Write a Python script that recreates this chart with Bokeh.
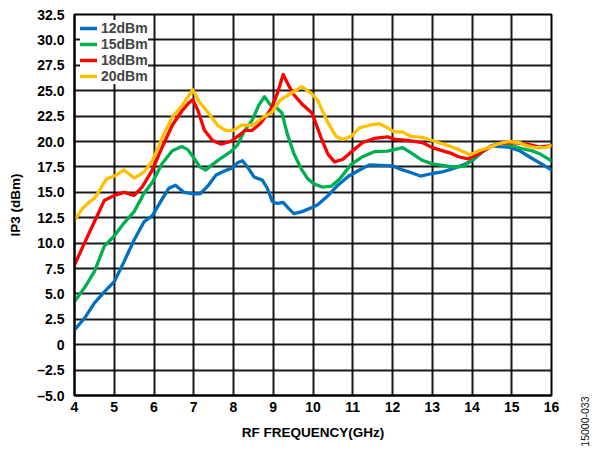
from bokeh.plotting import figure
from bokeh.models import FixedTicker, CustomJSTickFormatter, Legend, LegendItem, Range1d
from bokeh.layouts import row
from bokeh.embed import file_html
from bokeh.resources import INLINE
import math

# ---- data ----
x_12 = [4.0, 4.25, 4.5, 4.75, 5.0, 5.25, 5.5, 5.75, 5.96, 6.17, 6.375, 6.54, 6.75, 7.0, 7.16, 7.35, 7.56,
        7.77, 7.975, 8.1, 8.225, 8.35, 8.52, 8.725, 8.85, 8.975, 9.1, 9.25, 9.39, 9.52, 9.725, 9.975,
        10.125, 10.375, 10.625, 10.9, 11.17, 11.42, 11.7, 12.0, 12.25, 12.46, 12.7, 13.0, 13.25, 13.5,
        13.75, 14.0, 14.25, 14.5, 14.68, 14.93, 15.19, 15.44, 15.7, 16.0]
y_12 = [1.45, 2.6, 4.1, 5.2, 6.2, 8.2, 10.3, 12.1, 12.7, 14.1, 15.4, 15.7, 15.0, 14.85, 14.85, 15.6, 16.7,
        17.1, 17.4, 17.9, 18.1, 17.5, 16.5, 16.2, 15.4, 14.1, 13.9, 14.0, 13.4, 12.9, 13.1, 13.5,
        13.8, 14.65, 15.7, 16.6, 17.2, 17.7, 17.66, 17.6, 17.2, 16.95, 16.6, 16.85, 17.0, 17.3,
        17.65, 18.1, 18.95, 19.6, 19.5, 19.45, 19.1, 18.5, 17.9, 17.2]

x_15 = [4.0, 4.25, 4.5, 4.75, 5.0, 5.25, 5.5, 5.75, 5.96, 6.2, 6.46, 6.7, 6.85, 7.0, 7.15, 7.3, 7.46,
        7.68, 7.93, 8.1, 8.26, 8.47, 8.64, 8.78, 8.93, 9.1, 9.22, 9.35, 9.52, 9.72, 9.875, 10.04,
        10.25, 10.46, 10.67, 10.96, 11.25, 11.54, 11.875, 12.04, 12.25, 12.46, 12.75, 13.0, 13.25,
        13.5, 13.8, 14.0, 14.25, 14.5, 14.75, 15.0, 15.25, 15.5, 15.7, 16.0]
y_15 = [4.25, 5.6, 7.2, 9.7, 10.7, 12.0, 13.1, 14.9, 16.0, 17.8, 19.1, 19.5, 19.2, 18.4, 17.5, 17.2, 17.7,
        18.35, 19.0, 19.65, 20.95, 22.1, 23.6, 24.4, 23.6, 23.25, 22.8, 20.8, 18.8, 17.2, 16.3, 15.8,
        15.5, 15.6, 16.3, 17.75, 18.5, 19.0, 19.05, 19.2, 19.4, 18.9, 18.15, 17.8, 17.65,
        17.5, 17.55, 18.2, 18.95, 19.6, 19.85, 19.6, 19.3, 19.1, 18.8, 18.1]

x_18 = [4.0, 4.25, 4.5, 4.75, 5.0, 5.25, 5.5, 5.7, 5.96, 6.2, 6.46, 6.7, 6.875, 6.975, 7.1, 7.27, 7.475,
        7.68, 7.93, 8.14, 8.3, 8.475, 8.68, 8.93, 9.1, 9.25, 9.39, 9.52, 9.72, 9.975, 10.2, 10.375,
        10.54, 10.75, 11.0, 11.25, 11.54, 11.875, 12.08, 12.375, 12.75, 13.0, 13.25, 13.5, 13.66,
        13.9, 14.17, 14.42, 14.68, 14.93, 15.19, 15.44, 15.7, 16.0]
y_18 = [7.85, 10.0, 12.1, 14.2, 14.7, 15.0, 14.7, 15.5, 17.2, 19.4, 21.6, 23.0, 23.8, 24.1, 23.1, 21.1, 20.1,
        19.75, 20.0, 20.6, 21.1, 21.1, 21.8, 23.1, 24.7, 26.6, 25.5, 24.6, 23.7, 22.8, 20.4, 18.75,
        18.0, 18.25, 19.1, 19.9, 20.3, 20.45, 20.2, 20.1, 19.9, 19.4, 19.1, 18.8, 18.5,
        18.3, 18.8, 19.4, 19.8, 19.9, 19.85, 19.7, 19.45, 19.6]

x_20 = [4.0, 4.2, 4.375, 4.5, 4.63, 4.8, 5.0, 5.25, 5.5, 5.75, 5.96, 6.2, 6.46, 6.7, 6.975, 7.14, 7.35,
        7.6, 7.8, 8.0, 8.2, 8.47, 8.72, 8.97, 9.18, 9.43, 9.72, 9.97, 10.125, 10.375, 10.58, 10.75,
        10.96, 11.17, 11.42, 11.67, 11.875, 12.04, 12.25, 12.46, 12.75, 13.0, 13.15, 13.4, 13.66,
        13.96, 14.17, 14.42, 14.68, 14.93, 15.19, 15.36, 15.6, 15.85, 16.0]
y_20 = [12.25, 13.4, 14.05, 14.4, 15.2, 16.3, 16.6, 17.2, 16.4, 17.0, 18.1, 20.3, 22.4, 23.5, 25.1, 23.9, 22.9,
        21.6, 21.1, 21.1, 21.6, 21.6, 22.3, 22.9, 24.1, 24.7, 25.4, 24.7, 24.0, 21.85, 20.5, 20.2,
        20.5, 21.35, 21.6, 21.75, 21.35, 20.95, 20.95, 20.5, 20.4, 20.1, 19.9, 19.6, 19.2,
        18.7, 19.1, 19.4, 19.8, 20.0, 19.9, 19.6, 19.4, 19.4, 19.6]

series_names = ["12dBm", "15dBm", "18dBm", "20dBm"]
x_ticks = [4, 5, 6, 7, 8, 9, 10, 11, 12, 13, 14, 15, 16]
y_ticks = [-5, -2.5, 0, 2.5, 5, 7.5, 10, 12.5, 15, 17.5, 20, 22.5, 25, 27.5, 30, 32.5]
figure_id = "15000-033"

colors = ["#0070C0", "#00B050", "#FF0000", "#FFC000"]
FONT = "Liberation Sans"
H = 449

p = figure(width=571, height=H, output_backend="svg", toolbar_location=None,
           x_range=Range1d(x_ticks[0], x_ticks[-1]), y_range=Range1d(y_ticks[0], y_ticks[-1]),
           min_border_left=74, min_border_right=20, min_border_top=14, min_border_bottom=52)

p.outline_line_color = "black"
p.outline_line_width = 2

for ax in (p.xaxis[0], p.yaxis[0]):
    ax.major_tick_out = 0
    ax.major_tick_in = 0
    ax.minor_tick_out = 0
    ax.minor_tick_in = 0
    ax.axis_line_color = "black"
    ax.axis_line_width = 2
    ax.major_label_text_font = FONT
    ax.major_label_text_font_style = "bold"
    ax.major_label_text_font_size = "14px"
    ax.major_label_text_color = "black"
    ax.axis_label_text_font = FONT
    ax.axis_label_text_font_style = "bold"
    ax.axis_label_text_font_size = "13.5px"
    ax.axis_label_text_color = "black"

p.xaxis.ticker = FixedTicker(ticks=x_ticks)
p.yaxis.ticker = FixedTicker(ticks=y_ticks)
p.yaxis.formatter = CustomJSTickFormatter(
    code="if (tick == 0) { return '0'; } return (tick < 0 ? '\u2013' : '') + Math.abs(tick).toFixed(1);")
p.xaxis.axis_label = "RF FREQUENCY(GHz)"
p.yaxis.axis_label = "IP3 (dBm)"
p.xaxis.major_label_standoff = 6
p.yaxis.major_label_standoff = 10
p.xaxis.axis_label_standoff = 10
p.yaxis.axis_label_standoff = 11

p.xgrid.ticker = FixedTicker(ticks=x_ticks)
p.ygrid.ticker = FixedTicker(ticks=y_ticks)
p.grid.grid_line_color = "black"
p.grid.grid_line_width = 2
p.grid.grid_line_alpha = 0.9

xs = [x_12, x_15, x_18, x_20]
ys = [y_12, y_15, y_18, y_20]
items = []
for name, xx, yy, c in zip(series_names, xs, ys, colors):
    r = p.line(xx, yy, line_color=c, line_width=3.3, line_join="round", line_cap="round")
    items.append(LegendItem(label=name, renderers=[r]))

legend = Legend(items=items, location="top_left", margin=6, padding=7, spacing=0,
                glyph_width=17, glyph_height=16, label_standoff=4,
                label_text_font=FONT, label_text_font_style="bold", label_text_font_size="14px",
                label_height=16, border_line_color=None, background_fill_color="white",
                background_fill_alpha=1.0)
p.add_layout(legend)

# narrow side strip: its bottom axis carries the figure id as a vertical tick label
side = figure(width=19, height=H, output_backend="svg", toolbar_location=None,
              x_range=Range1d(0, 1), y_range=Range1d(0, 1), y_axis_type=None,
              min_border_left=0, min_border_right=0, min_border_top=14, min_border_bottom=52)
side.outline_line_color = None
side.grid.visible = False
sax = side.xaxis[0]
sax.ticker = FixedTicker(ticks=[0.7])
sax.formatter = CustomJSTickFormatter(code="return '%s';" % figure_id)
sax.major_label_orientation = math.pi / 2
sax.major_label_standoff = 1
sax.major_label_text_font = FONT
sax.major_label_text_font_size = "10.5px"
sax.major_label_text_color = "#111111"
sax.axis_line_color = None
sax.major_tick_line_color = None
sax.minor_tick_line_color = None
sax.major_tick_out = 0
sax.minor_tick_out = 0

layout = row(p, side, spacing=0)
open("out.html", "w").write(file_html(layout, INLINE))
